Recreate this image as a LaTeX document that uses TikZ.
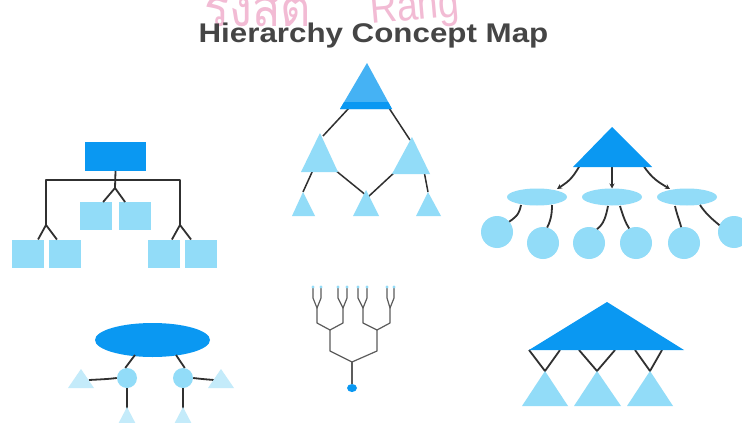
\documentclass[tikz,border=0pt]{standalone}
\usepackage{fontspec}
\setmainfont{Liberation Sans}
\newfontfamily\thaifont[Script=Thai]{Loma}
\usetikzlibrary{arrows.meta,shapes.geometric}
\definecolor{dblue}{HTML}{0A98F2}
\definecolor{lblue}{HTML}{92DCF8}
\definecolor{mblue}{HTML}{45B2F4}
\definecolor{pblue}{HTML}{C4EBFA}
\definecolor{lnk}{HTML}{303030}
\definecolor{twigc}{HTML}{5C5C5C}
\definecolor{pinkw}{HTML}{F2BBD4}
\definecolor{titlec}{HTML}{454545}
\begin{document}
\begin{tikzpicture}[x=1pt,y=-1pt,
  lk/.style={draw=lnk,line width=1.8pt,line join=round},
  twig/.style={draw=twigc,line width=1.2pt,line join=round},
  sq/.style={rectangle,fill=lblue,inner sep=0,outer sep=0,minimum width=32pt,minimum height=28pt},
  blob/.style={ellipse,fill=lblue,inner sep=0,outer sep=0,minimum width=60pt,minimum height=17pt},
  ball/.style={circle,fill=lblue,inner sep=0,outer sep=0,minimum size=32pt},
  arr/.style={lk,-{Stealth[length=5pt,width=5pt]}}]
\useasboundingbox (0,0) rectangle (742,423);
\clip (0,0) rectangle (742,423);
\fill[white] (0,0) rectangle (742,423);

% watermark and title
\node[anchor=base west,text=pinkw,inner sep=0,xscale=0.9,font=\thaifont\fontsize{52}{52}\selectfont] (wm1) at (204,26) {รังสิต};
\node[anchor=base west,text=pinkw,inner sep=0,rotate=5,xscale=0.85,font=\fontsize{44}{44}\selectfont] (wm2) at (371,24) {Rang};
\node[anchor=base,text=titlec,inner sep=0,xscale=1.16,font=\bfseries\fontsize{27}{30}\selectfont] (title) at (373.5,42) {Hierarchy Concept Map};

% ---------- diagram 1: boxes ----------
\node[sq,fill=dblue,minimum width=61pt,minimum height=29pt] (r0) at (115.5,156.5) {};
\node[sq] (a1) at (27.5,253.5) {};
\node[sq] (a2) at (65,253.5) {};
\node[sq] (b1) at (96,216) {};
\node[sq] (b2) at (134.5,216) {};
\node[sq] (c1) at (163.5,253.5) {};
\node[sq] (c2) at (200.5,253.5) {};
\coordinate (jl) at (46,180);
\coordinate (jr) at (180,180);
\coordinate (fl) at (46,225);
\coordinate (fm) at (115,188);
\coordinate (fr) at (180,225);
\draw[lk] (r0.south) -- (fm);
\draw[lk] (fl) -- (jl) -- (jr) -- (fr);
\draw[lk] (a1.53) -- (fl) -- (a2.120);
\draw[lk] (b1.63) -- (fm) -- (b2.124);
\draw[lk] (c1.59) -- (fr) -- (c2.124);

% ---------- diagram 2: triangles ----------
\coordinate (t0a) at (367,63);
\coordinate (t0l) at (340,109);
\coordinate (t0r) at (392,109);
\coordinate (t1a) at (320,133);
\coordinate (t2a) at (412,137);
\coordinate (u1a) at (303,192);
\coordinate (u2a) at (366,190);
\coordinate (u3a) at (428,192);
\draw[lk,line width=1.5pt] (349,108) -- (323,136);
\draw[lk,line width=1.5pt] (389,108) -- (410,140);
\draw[lk,line width=1.5pt] (313,170) -- (u1a);
\draw[lk,line width=1.5pt] (335,170) -- (367,196);
\draw[lk,line width=1.5pt] (396,171) -- (368,197);
\draw[lk,line width=1.5pt] (424,171) -- (u3a);
\fill[mblue] (t0a) -- (t0r) -- (t0l) -- cycle;
\fill[dblue] (344.1,102) -- (388.2,102) -- (t0r) -- (t0l) -- cycle;
\fill[lblue] (t1a) -- (338,172) -- (301,172) -- cycle;
\fill[lblue] (t2a) -- (430,174) -- (392,174) -- cycle;
\fill[lblue] (u1a) -- (315,216) -- (292,216) -- cycle;
\fill[lblue] (u2a) -- (379,216) -- (353,216) -- cycle;
\fill[lblue] (u3a) -- (441,216) -- (416,216) -- cycle;

% ---------- diagram 3: triangle, ellipses, circles ----------
\coordinate (T3a) at (612,127);
\coordinate (T3l) at (573,167);
\coordinate (T3r) at (652,167);
\node[blob] (e1) at (537,197) {};
\node[blob] (e2) at (612,197) {};
\node[blob] (e3) at (687,197) {};
\draw[arr] (580,165) .. controls (572,180) and (566,183) .. (557,189);
\draw[arr] (612,166) -- (e2.north);
\draw[arr] (643,165) .. controls (652,179) and (660,183) .. (670,189);
\fill[dblue] (T3a) -- (T3r) -- (T3l) -- cycle;
\node[ball] (k1) at (497,232) {};
\node[ball] (k2) at (543,243) {};
\node[ball] (k3) at (589,243) {};
\node[ball] (k4) at (636,243) {};
\node[ball] (k5) at (684,243) {};
\node[ball] (k6) at (734,232) {};
\draw[lk] (521,205) .. controls (519,216) and (514,218) .. (k1.40);
\draw[lk] (552,205) .. controls (552,216) and (550,222) .. (k2.75);
\draw[lk] (608,206) .. controls (606,216) and (604,224) .. (k3.60);
\draw[lk] (620,206) .. controls (623,216) and (626,224) .. (k4.115);
\draw[lk] (675,206) .. controls (677,215) and (680,222) .. (k5.100);
\draw[lk] (700,205) .. controls (706,214) and (712,219) .. (k6.155);

% ---------- diagram 4: ellipse with circles ----------
\node[ellipse,fill=dblue,inner sep=0,minimum width=115pt,minimum height=34pt] (E4) at (152.5,340) {};
\node[circle,fill=lblue,inner sep=0,minimum size=20pt] (s1) at (127,378) {};
\node[circle,fill=lblue,inner sep=0,minimum size=20pt] (s2) at (183,378) {};
\coordinate (p1) at (81,369);
\coordinate (p2) at (221,369);
\coordinate (p3) at (127,407);
\coordinate (p4) at (183,407);
\draw[lk] (135,355) -- (s1.100);
\draw[lk] (176,355) -- (s2.80);
\draw[lk] (s1.west) .. controls (108,379) .. (89,380);
\draw[lk] (s2.east) .. controls (202,379) .. (214,380);
\draw[lk] (s1.south) -- (127,412);
\draw[lk] (s2.south) -- (183,412);
\fill[pblue] (p1) -- (94,388) -- (68,388) -- cycle;
\fill[pblue] (p2) -- (234,388) -- (208,388) -- cycle;
\fill[pblue] (p3) -- (140,432) -- (114,432) -- cycle;
\fill[pblue] (p4) -- (196,432) -- (170,432) -- cycle;

% ---------- diagram 5: branching tree ----------
\node[ellipse,fill=dblue,inner sep=0,minimum width=10pt,minimum height=8pt] (dot) at (352,388) {};
\coordinate (q0) at (352,362);
\draw[twig] (dot.north) -- (q0);
\draw[twig] (330,330) -- (330,351) -- (q0) -- (377,351) -- (377,330);
\draw[twig] (317,308) -- (317,323) -- (330,330) -- (343,323) -- (343,308);
\draw[twig] (363,308) -- (363,323) -- (377,330) -- (390,323) -- (390,308);
\draw[twig] (313,287) -- (313,298) -- (317,308) -- (321,298) -- (321,287);
\draw[twig] (338,287) -- (338,298) -- (343,308) -- (347,298) -- (347,287);
\draw[twig] (358,287) -- (358,298) -- (363,308) -- (367,298) -- (367,287);
\draw[twig] (387,287) -- (387,298) -- (390,308) -- (394,298) -- (394,287);
\foreach \x in {313,321,338,347,358,367,387,394}
  \fill[lblue] (\x,287) circle (1.6pt);

% ---------- diagram 6: big triangle with three small ----------
\coordinate (B6a) at (607,302);
\coordinate (B6l) at (529,350);
\coordinate (B6r) at (684,350);
\coordinate (v1) at (545,371);
\coordinate (v2) at (597,371);
\coordinate (v3) at (650,371);
\draw[lk] (B6l) -- (v1) -- (560,350);
\draw[lk] (579,350) -- (v2) -- (615,350);
\draw[lk] (635,350) -- (v3) -- (662,350);
\fill[dblue] (B6a) -- (B6r) -- (B6l) -- cycle;
\fill[lblue] (v1) -- (568,406) -- (522,406) -- cycle;
\fill[lblue] (v2) -- (621,406) -- (574,406) -- cycle;
\fill[lblue] (v3) -- (673,406) -- (627,406) -- cycle;
\end{tikzpicture}
\end{document}
